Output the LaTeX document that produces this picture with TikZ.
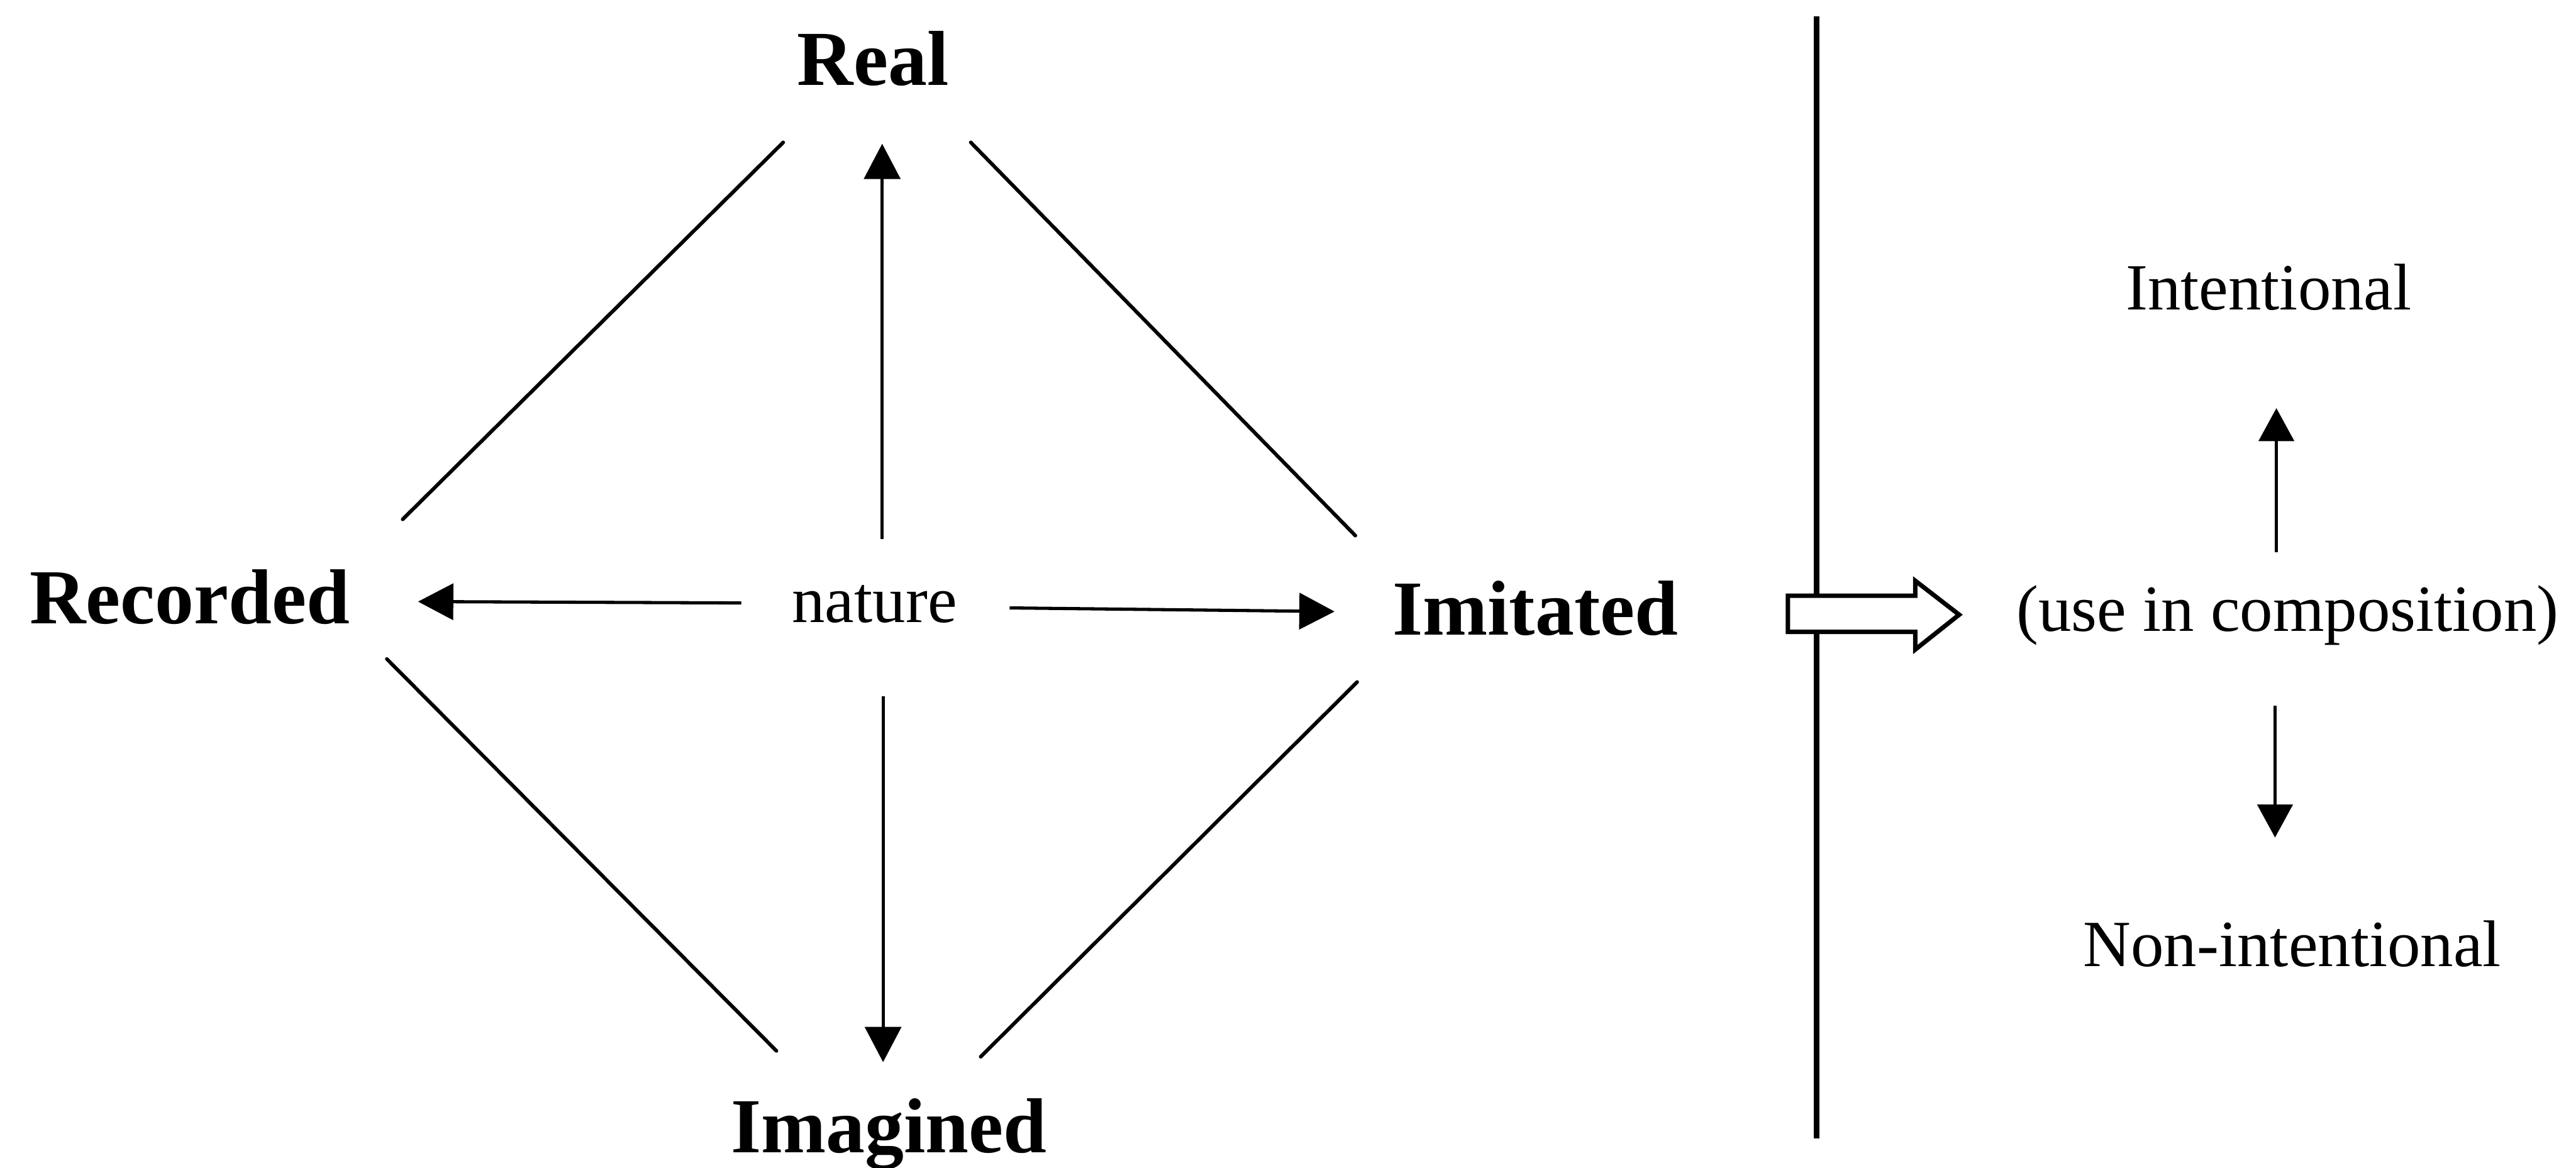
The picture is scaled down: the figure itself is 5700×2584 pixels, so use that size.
\documentclass[tikz,border=0pt]{standalone}
\usepackage{fontspec}
\setmainfont{Liberation Serif}
\usetikzlibrary{arrows.meta}
\begin{document}
\begin{tikzpicture}[x=0.01cm,y=-0.01cm,
  bigword/.style={font=\fontsize{49}{52}\selectfont\bfseries, inner sep=0pt, anchor=base},
  smallword/.style={font=\fontsize{41.5}{44}\selectfont, inner sep=0pt, anchor=base},
  edge/.style={line width=2.3pt, line cap=round},
  arr/.style={line width=2pt, -{Triangle[length=0.78cm,width=0.8cm]}},
  arrsmall/.style={line width=1.8pt, -{Triangle[length=0.73cm,width=0.78cm]}},
  divider/.style={line width=3.6pt},
  hollow/.style={line width=2.8pt, fill=white, line join=miter}]
\useasboundingbox (0,0) rectangle (5700,2584);
\fill[white] (0,0) rectangle (5700,2584);

% word nodes
\node[bigword] (real) at (1932,188) {Real};
\node[bigword] (recorded) at (420,1380) {Recorded};
\node[bigword] (imagined) at (1967,2550) {Imagined};
\node[bigword] (imitated) at (3397,1405) {Imitated};
\node[smallword] (nature) at (1935,1377) {nature};
\node[smallword] (intentional) at (5020,686) {Intentional};
\node[smallword] (use) at (5062,1397) {(use in composition)};
\node[smallword] (nonint) at (5072,2138) {Non-intentional};

% diamond edges
\coordinate (ulA) at (891,1149);  \coordinate (ulB) at (1733,315);
\coordinate (urA) at (2148,315);  \coordinate (urB) at (2999,1185);
\coordinate (llA) at (856,1458);  \coordinate (llB) at (1718,2325);
\coordinate (lrA) at (2170,2338); \coordinate (lrB) at (3003,1509);
\draw[edge] (ulA) -- (ulB);
\draw[edge] (urA) -- (urB);
\draw[edge] (llA) -- (llB);
\draw[edge] (lrA) -- (lrB);

% arrows from nature
\coordinate (upT) at (1952,1192);   \coordinate (upH) at (1952,318);
\coordinate (dnT) at (1954,1541);   \coordinate (dnH) at (1954,2350);
\coordinate (lfT) at (1640,1334);   \coordinate (lfH) at (925,1331);
\coordinate (rtT) at (2234,1345);   \coordinate (rtH) at (2953,1353);
\draw[arr] (upT) -- (upH);
\draw[arr] (dnT) -- (dnH);
\draw[arr] (lfT) -- (lfH);
\draw[arr] (rtT) -- (rtH);

% divider
\coordinate (divTop) at (4020,36);
\coordinate (divBot) at (4020,2519);
\draw[divider] (divTop) -- (divBot);

% hollow arrow
\draw[hollow] (3956,1318) -- (4238,1318) -- (4238,1285) -- (4335,1360)
  -- (4238,1437) -- (4238,1398) -- (3956,1398) -- cycle;

% arrows on the right
\coordinate (ruT) at (5037,1222); \coordinate (ruH) at (5037,903);
\coordinate (rdT) at (5034,1562); \coordinate (rdH) at (5034,1853);
\draw[arrsmall] (ruT) -- (ruH);
\draw[arrsmall] (rdT) -- (rdH);
\end{tikzpicture}
\end{document}
